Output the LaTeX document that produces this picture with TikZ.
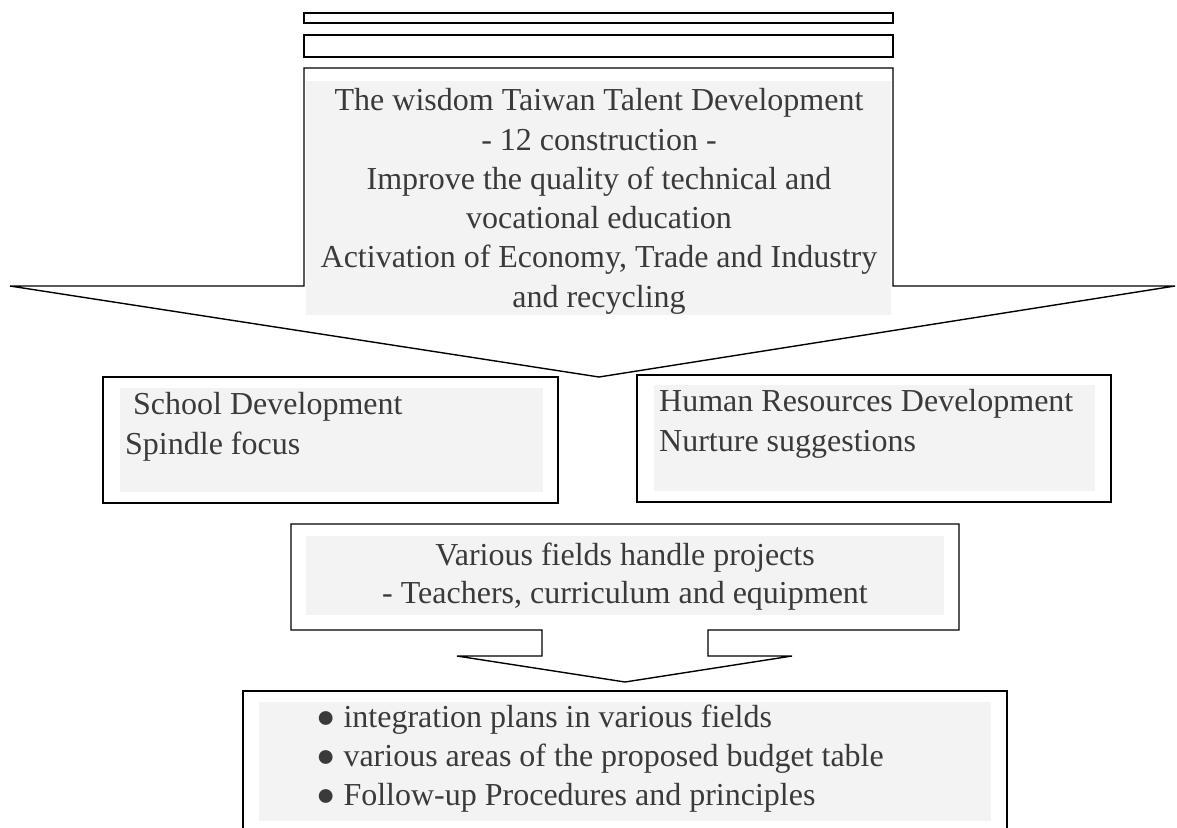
\documentclass[tikz,border=0pt]{standalone}
\usepackage{fontspec}
\setmainfont{Liberation Serif}
\definecolor{bggray}{HTML}{F3F3F3}
\definecolor{txtgray}{HTML}{3A3A3A}
\tikzset{
  frame/.style={draw=black, line width=1.4pt, fill=white, line join=miter},
  graybg/.style={fill=bggray, draw=none},
  txt/.style={font=\fontsize{32}{39}\selectfont, text=txtgray, inner sep=0pt},
  ctxt/.style={txt, anchor=base},
  ltxt/.style={txt, anchor=base west}
}
\begin{document}
\begin{tikzpicture}[x=1pt,y=-1pt]
\useasboundingbox (0,0) rectangle (1177,827);
% top bars
\draw[frame] (304,13) rectangle (893,23);
\draw[frame] (304,35) rectangle (893,57);
% big arrow
\draw[frame] (304,68) -- (893,68) -- (893,286) -- (1175,286) -- (599,377)
  -- (10,286) -- (304,286) -- cycle;
\fill[graybg] (306,81) rectangle (891,315);
\node[ctxt] (t1) at (599,110) {The wisdom Taiwan Talent Development};
\node[ctxt] (t2) at (599,150) {- 12 construction -};
\node[ctxt] (t3) at (599,189) {Improve the quality of technical and};
\node[ctxt] (t4) at (599,228) {vocational education};
\node[ctxt] (t5) at (599,267) {Activation of Economy, Trade and Industry};
\node[ctxt] (t6) at (599,307) {and recycling};
% left box
\draw[frame] (103,377) rectangle (558,503);
\fill[graybg] (120,388) rectangle (543,492);
\node[ltxt] (l1) at (133,414) {School Development};
\node[ltxt] (l2) at (125,454) {Spindle focus};
% right box
\draw[frame] (637,375) rectangle (1111,502);
\fill[graybg] (654,385) rectangle (1095,491);
\node[ltxt] (r1) at (659,411) {Human Resources Development};
\node[ltxt] (r2) at (659,451) {Nurture suggestions};
% middle arrow
\draw[frame] (291,524) -- (959,524) -- (959,630) -- (708,630) -- (708,656)
  -- (792,656) -- (625,682) -- (457,656) -- (542,656) -- (542,630)
  -- (291,630) -- cycle;
\fill[graybg] (306,536) rectangle (944,615);
\node[ctxt] (m1) at (625,565) {Various fields handle projects};
\node[ctxt] (m2) at (625,603) {- Teachers, curriculum and equipment};
% bottom box
\draw[frame] (243,840) -- (243,691) -- (1007,691) -- (1007,840);
\fill[graybg] (259,702) rectangle (991,821);
\node[ltxt] (b1) at (316,727) {● integration plans in various fields};
\node[ltxt] (b2) at (316,766) {● various areas of the proposed budget table};
\node[ltxt] (b3) at (316,805) {● Follow-up Procedures and principles};
\end{tikzpicture}
\end{document}
